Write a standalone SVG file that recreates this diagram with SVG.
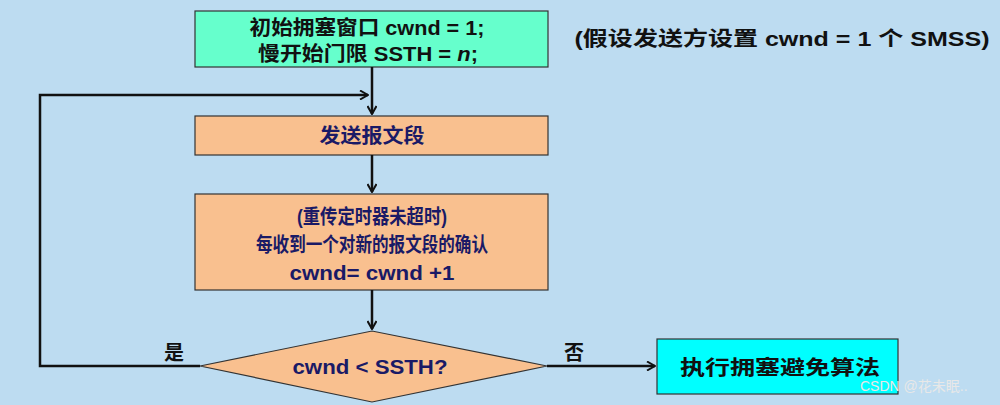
<svg xmlns="http://www.w3.org/2000/svg" width="1000" height="405" viewBox="0 0 1000 405">
<style>
.t{font-family:"Liberation Sans","Noto Sans CJK SC",sans-serif;font-weight:bold;font-size:20px;text-anchor:middle}
.n{fill:#1a1a66}
.k{fill:#111}
.box{stroke:#333;stroke-width:1.2}
.c{stroke:#111;stroke-width:2.5;fill:none}
</style>
<defs><marker id="a" markerWidth="10" markerHeight="10" refX="9" refY="5" orient="auto" markerUnits="userSpaceOnUse"><path d="M1,0.5 L9,5 L1,9.5" fill="none" stroke="#111" stroke-width="2"/></marker></defs>
<rect width="1000" height="405" fill="#bddcf1"/>
<g id="start"><rect class="box" x="195" y="11" width="353" height="56" fill="#66ffcc"/>
<text class="t k" x="367" y="35" textLength="235" lengthAdjust="spacingAndGlyphs">初始拥塞窗口 cwnd = 1;</text>
<text class="t k" x="368" y="61" textLength="220" lengthAdjust="spacingAndGlyphs">慢开始门限 SSTH = <tspan font-style="italic">n</tspan>;</text></g>
<text class="t k" x="782" y="46" font-size="22" textLength="415" lengthAdjust="spacingAndGlyphs">(假设发送方设置 cwnd = 1 个 SMSS)</text>
<g id="send"><rect class="box" x="195" y="116" width="353" height="39" fill="#f9c08f"/>
<text class="t n" x="372" y="143" textLength="105" lengthAdjust="spacingAndGlyphs">发送报文段</text></g>
<g id="ack"><rect class="box" x="195" y="194" width="353" height="96" fill="#f9c08f"/>
<text class="t n" x="372" y="224" textLength="150" lengthAdjust="spacingAndGlyphs">(重传定时器未超时)</text>
<text class="t n" x="372" y="252" textLength="232" lengthAdjust="spacingAndGlyphs">每收到一个对新的报文段的确认</text>
<text class="t n" x="372" y="280" textLength="165" lengthAdjust="spacingAndGlyphs">cwnd= cwnd +1</text></g>
<g id="cond"><polygon class="box" points="200,366 372,331 547,366 372,402" fill="#f9c08f"/>
<text class="t n" x="370" y="374" textLength="155" lengthAdjust="spacingAndGlyphs">cwnd &lt; SSTH?</text></g>
<g id="ca"><rect class="box" x="657" y="339" width="241" height="55" fill="#00ffff"/>
<text class="t k" x="780" y="375" font-size="22" textLength="200" lengthAdjust="spacingAndGlyphs">执行拥塞避免算法</text></g>
<g id="edges">
<line class="c" x1="372" y1="67" x2="372" y2="114" marker-end="url(#a)"/>
<polyline class="c" points="200,366 40,366 40,95 368,95" marker-end="url(#a)"/>
<line class="c" x1="372" y1="155" x2="372" y2="192" marker-end="url(#a)"/>
<line class="c" x1="372" y1="290" x2="372" y2="329" marker-end="url(#a)"/>
<line class="c" x1="547" y1="366" x2="655" y2="366" marker-end="url(#a)"/>
<text class="t k" x="174" y="360">是</text>
<text class="t k" x="574" y="360">否</text>
</g>
<text x="860" y="391" font-family="Liberation Sans,Noto Sans CJK SC,sans-serif" font-size="14" fill="#e8e8e8" text-anchor="start">CSDN @花未眠..</text>
</svg>
